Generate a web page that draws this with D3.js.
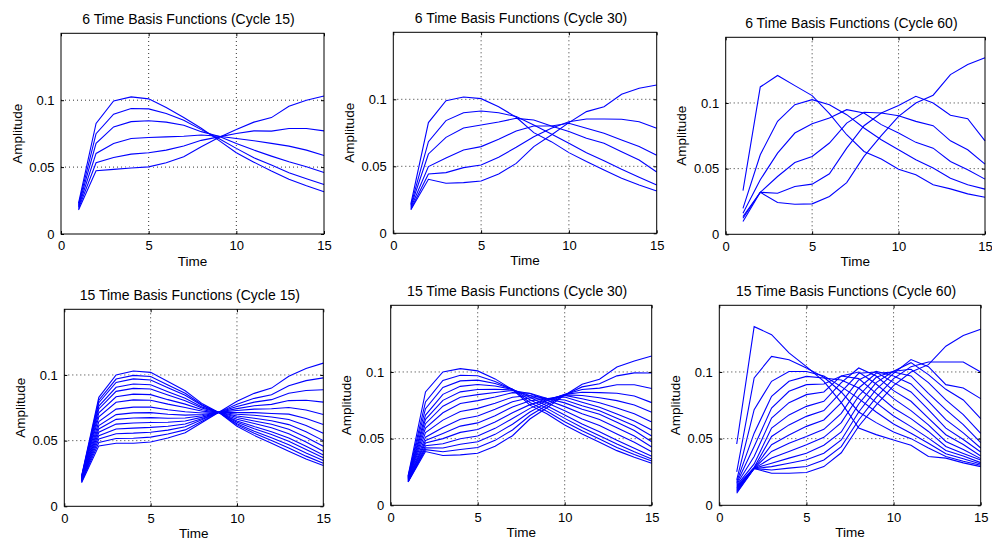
<!DOCTYPE html>
<html><head><meta charset="utf-8">
<script src="https://cdn.jsdelivr.net/npm/d3@7"></script>
<style>
body{margin:0;background:#fff}
svg{display:block}
text{font-family:"Liberation Sans",Arial,Helvetica,sans-serif;fill:#000}
</style>
</head><body>
<svg id="chart" width="992" height="542"></svg>
<script>
// ---------- data ----------
const time = [1,2,3,4,5,6,7,8,9,10,11,12,13,14,15];
const xTicks = [0,5,10,15];
const yTicks = [0,0.05,0.1];
const xDomain = [0,15];
const yDomain = [0,0.15];
const titles = [
  "6 Time Basis Functions (Cycle 15)",
  "6 Time Basis Functions (Cycle 30)",
  "6 Time Basis Functions (Cycle 60)",
  "15 Time Basis Functions (Cycle 15)",
  "15 Time Basis Functions (Cycle 30)",
  "15 Time Basis Functions (Cycle 60)"
];
const xLabel = "Time";
const yLabel = "Amplitude";

const basis6Cycle15 = [
  [0.023,0.0826,0.0995,0.1025,0.101,0.0945,0.087,0.079,0.070,0.0607,0.0537,0.047,0.041,0.036,0.0316],
  [0.022,0.075,0.0896,0.0938,0.0935,0.090,0.085,0.078,0.0714,0.064,0.057,0.0515,0.0458,0.0413,0.037],
  [0.021,0.0677,0.080,0.084,0.0846,0.0836,0.0813,0.0765,0.0731,0.0677,0.0627,0.0582,0.054,0.0502,0.046],
  [0.020,0.0602,0.0677,0.0714,0.0721,0.0726,0.0731,0.0740,0.0731,0.0714,0.0697,0.0677,0.0657,0.0627,0.0587],
  [0.019,0.0532,0.0572,0.0597,0.0607,0.0627,0.0657,0.0700,0.0726,0.0751,0.0771,0.0769,0.0789,0.0789,0.0771],
  [0.018,0.0473,0.0483,0.0493,0.0502,0.0532,0.0577,0.0652,0.0721,0.0781,0.0836,0.087,0.0955,0.100,0.1032]
];
const basis6Cycle30 = [
  [0.022,0.0826,0.099,0.1017,0.1005,0.0945,0.0866,0.0751,0.0684,0.0602,0.0535,0.0473,0.041,0.036,0.0316],
  [0.021,0.0684,0.0841,0.090,0.0913,0.090,0.0871,0.0808,0.0741,0.0672,0.0602,0.0542,0.0478,0.0418,0.036],
  [0.020,0.0592,0.0716,0.0786,0.0808,0.0831,0.0858,0.0846,0.0801,0.0759,0.0709,0.0672,0.0609,0.0547,0.0458],
  [0.019,0.0498,0.0562,0.0622,0.0647,0.0701,0.0764,0.0801,0.0801,0.0821,0.0784,0.0746,0.0697,0.0647,0.0582],
  [0.018,0.0443,0.0453,0.049,0.051,0.0567,0.0642,0.0721,0.0784,0.0833,0.0853,0.0853,0.0851,0.0833,0.0784],
  [0.0175,0.0403,0.0373,0.0378,0.039,0.0443,0.0522,0.0647,0.0734,0.0826,0.0908,0.0945,0.1037,0.1082,0.1107]
];
const basis6Cycle60 = [
  [0.0333,0.1122,0.1209,0.1132,0.1056,0.0919,0.0758,0.0631,0.0573,0.0496,0.0453,0.0377,0.0346,0.0308,0.0282],
  [0.0198,0.0606,0.086,0.0987,0.1025,0.0987,0.0911,0.0809,0.072,0.0644,0.0567,0.0504,0.0427,0.0377,0.0344],
  [0.016,0.0415,0.0618,0.0771,0.0842,0.0886,0.0949,0.0924,0.0835,0.0771,0.070,0.0656,0.0555,0.0491,0.042],
  [0.0135,0.032,0.044,0.0547,0.0593,0.0695,0.0847,0.0929,0.0924,0.0903,0.086,0.0827,0.0712,0.0644,0.0534],
  [0.0122,0.032,0.0313,0.0364,0.0382,0.0461,0.0656,0.0827,0.0924,0.098,0.1051,0.100,0.0906,0.088,0.0712],
  [0.0097,0.032,0.0242,0.0229,0.0232,0.0288,0.0394,0.0593,0.0751,0.0898,0.100,0.1059,0.1216,0.1293,0.1344]
];
const basis15Cycle15 = [
  [0.023,0.083,0.100,0.103,0.102,0.095,0.088,0.078,0.071,0.061,0.054,0.048,0.042,0.036,0.031],
  [0.0226,0.0808,0.0969,0.0997,0.0988,0.0924,0.0861,0.0772,0.0711,0.0620,0.0556,0.0501,0.0444,0.0382,0.0328],
  [0.0223,0.0789,0.0943,0.0970,0.0962,0.0903,0.0845,0.0765,0.0711,0.0629,0.0572,0.0522,0.0468,0.0406,0.0348],
  [0.0220,0.0763,0.0906,0.0931,0.0925,0.0873,0.0822,0.0755,0.0712,0.0640,0.0591,0.0547,0.0495,0.0432,0.0369],
  [0.0216,0.0741,0.0875,0.0898,0.0893,0.0847,0.0803,0.0746,0.0712,0.0650,0.0607,0.0568,0.0520,0.0457,0.0391],
  [0.0213,0.0712,0.0834,0.0854,0.0850,0.0812,0.0778,0.0735,0.0713,0.0663,0.0630,0.0598,0.0553,0.0489,0.0419],
  [0.0210,0.0682,0.0792,0.0810,0.0808,0.0778,0.0752,0.0724,0.0714,0.0676,0.0650,0.0625,0.0587,0.0526,0.0457],
  [0.0206,0.0645,0.0740,0.0755,0.0755,0.0735,0.0720,0.0710,0.0715,0.0688,0.0671,0.0652,0.0622,0.0567,0.0500],
  [0.0203,0.0615,0.0698,0.0711,0.0713,0.0701,0.0694,0.0699,0.0716,0.0701,0.0693,0.0680,0.0661,0.0615,0.0556],
  [0.0200,0.0589,0.0662,0.0672,0.0675,0.0670,0.0672,0.0689,0.0717,0.0713,0.0713,0.0707,0.0702,0.0669,0.0623],
  [0.0196,0.0564,0.0626,0.0634,0.0638,0.0640,0.0650,0.0679,0.0717,0.0729,0.0740,0.0743,0.0752,0.0733,0.0699],
  [0.0193,0.0538,0.0589,0.0595,0.0601,0.0610,0.0627,0.0669,0.0718,0.0744,0.0766,0.0776,0.0805,0.0807,0.0793],
  [0.0190,0.0512,0.0553,0.0557,0.0564,0.0580,0.0605,0.0660,0.0719,0.0760,0.0793,0.0812,0.0861,0.0882,0.0887],
  [0.0186,0.0486,0.0516,0.0518,0.0527,0.0550,0.0582,0.0650,0.0719,0.0777,0.0822,0.0850,0.0918,0.0957,0.0978],
  [0.018,0.046,0.048,0.048,0.049,0.052,0.056,0.064,0.072,0.080,0.086,0.090,0.099,0.105,0.109]
];
const basis15Cycle30 = [
  [0.022,0.085,0.100,0.1025,0.1008,0.0948,0.0868,0.0751,0.0684,0.0602,0.0535,0.0473,0.041,0.036,0.0316],
  [0.0216,0.0775,0.0937,0.0975,0.0972,0.0929,0.0868,0.0771,0.0704,0.0627,0.0559,0.0498,0.0434,0.0381,0.0332],
  [0.0213,0.0725,0.0884,0.0933,0.0939,0.0913,0.0870,0.0792,0.0725,0.0652,0.0583,0.0522,0.0459,0.0401,0.0347],
  [0.0209,0.0677,0.0832,0.0892,0.0906,0.0895,0.0870,0.0811,0.0745,0.0678,0.0610,0.0551,0.0487,0.0427,0.0367],
  [0.0206,0.0645,0.0787,0.0851,0.0868,0.0870,0.0865,0.0824,0.0767,0.0709,0.0648,0.0598,0.0534,0.0473,0.0402],
  [0.0202,0.0612,0.0743,0.0810,0.0830,0.0846,0.0861,0.0838,0.0788,0.0740,0.0686,0.0644,0.0581,0.0519,0.0437],
  [0.0199,0.0579,0.0694,0.0763,0.0785,0.0812,0.0845,0.0840,0.0801,0.0768,0.0720,0.0683,0.0622,0.0561,0.0476],
  [0.0195,0.0545,0.0639,0.0704,0.0727,0.0766,0.0811,0.0823,0.0801,0.0790,0.0747,0.0709,0.0653,0.0597,0.0520],
  [0.0191,0.0511,0.0584,0.0645,0.0670,0.0720,0.0777,0.0807,0.0801,0.0812,0.0773,0.0735,0.0684,0.0633,0.0564],
  [0.0188,0.0486,0.0539,0.0594,0.0618,0.0672,0.0738,0.0784,0.0797,0.0824,0.0799,0.0769,0.0730,0.0687,0.0625],
  [0.0184,0.0467,0.0500,0.0547,0.0569,0.0624,0.0694,0.0755,0.0791,0.0828,0.0823,0.0807,0.0785,0.0753,0.0697],
  [0.0181,0.0447,0.0461,0.0499,0.0520,0.0577,0.0651,0.0727,0.0785,0.0832,0.0848,0.0845,0.0840,0.0820,0.0770],
  [0.0179,0.0432,0.0430,0.0458,0.0476,0.0532,0.0608,0.0700,0.0770,0.0831,0.0869,0.0879,0.0904,0.0904,0.0876],
  [0.0177,0.0417,0.0402,0.0418,0.0433,0.0487,0.0565,0.0673,0.0752,0.0828,0.0888,0.0912,0.0971,0.0993,0.0992],
  [0.0175,0.0403,0.0373,0.0378,0.0390,0.0443,0.0522,0.0647,0.0734,0.0826,0.0908,0.0945,0.1037,0.1082,0.112]
];
const basis15Cycle60 = [
  [0.046,0.134,0.128,0.1143,0.104,0.093,0.077,0.058,0.053,0.049,0.045,0.0366,0.0354,0.0318,0.029],
  [0.025,0.0955,0.1117,0.1092,0.103,0.096,0.085,0.070,0.062,0.055,0.050,0.0429,0.0366,0.0331,0.030],
  [0.019,0.0717,0.093,0.1003,0.1003,0.097,0.089,0.080,0.070,0.061,0.054,0.0466,0.0386,0.0349,0.031],
  [0.0178,0.0541,0.0817,0.093,0.0967,0.0955,0.094,0.088,0.077,0.067,0.059,0.0504,0.0411,0.0369,0.032],
  [0.0168,0.0441,0.0729,0.0855,0.0905,0.091,0.097,0.095,0.084,0.073,0.065,0.0554,0.0441,0.0389,0.034],
  [0.0158,0.0366,0.0654,0.077,0.083,0.085,0.097,0.100,0.091,0.080,0.071,0.0603,0.0479,0.0419,0.035],
  [0.015,0.031,0.0579,0.0678,0.0742,0.078,0.092,0.103,0.097,0.086,0.078,0.0654,0.0529,0.0456,0.037],
  [0.0142,0.0285,0.0516,0.0603,0.0667,0.071,0.085,0.099,0.100,0.092,0.085,0.0717,0.0579,0.0493,0.040],
  [0.0135,0.028,0.0454,0.0528,0.0592,0.064,0.077,0.094,0.1005,0.097,0.091,0.078,0.0642,0.0543,0.043],
  [0.0128,0.0278,0.0404,0.0466,0.0516,0.057,0.069,0.088,0.099,0.100,0.097,0.084,0.0717,0.0605,0.047],
  [0.0121,0.0277,0.0354,0.0404,0.0454,0.051,0.062,0.082,0.096,0.1005,0.102,0.092,0.079,0.068,0.054],
  [0.0114,0.0277,0.0316,0.0354,0.0391,0.045,0.055,0.076,0.092,0.1005,0.107,0.098,0.087,0.079,0.065],
  [0.0107,0.0276,0.029,0.0316,0.0341,0.039,0.049,0.070,0.087,0.099,0.1093,0.104,0.0905,0.088,0.080],
  [0.0099,0.0276,0.0265,0.0279,0.0291,0.034,0.044,0.064,0.081,0.095,0.104,0.1075,0.1075,0.1075,0.100],
  [0.009,0.0276,0.024,0.024,0.0246,0.029,0.0394,0.0593,0.0751,0.0898,0.100,0.1055,0.1193,0.1273,0.132]
];

// ---------- layout (plot boxes: left, top, right, bottom) ----------
const panels = [
  {series: basis6Cycle15,  box: [61, 33.3, 324, 234]},
  {series: basis6Cycle30,  box: [393.3, 32.3, 656.7, 233.3]},
  {series: basis6Cycle60,  box: [725.7, 37.3, 985, 234.3]},
  {series: basis15Cycle15, box: [64.3, 309.3, 323.3, 506.3]},
  {series: basis15Cycle30, box: [390.7, 305.3, 651.7, 505.3]},
  {series: basis15Cycle60, box: [719.3, 305.3, 980.7, 505.3]}
];

const svg = d3.select("#chart");
const FONT = '"Liberation Sans", Arial, Helvetica, sans-serif';

panels.forEach((p, i) => {
  const [l, t, r, b] = p.box;
  const x = d3.scaleLinear().domain(xDomain).range([l, r]);
  const y = d3.scaleLinear().domain(yDomain).range([b, t]);
  const g = svg.append("g");

  // dotted grid
  g.selectAll("line.gx").data(xTicks.filter(v => v > xDomain[0] && v < xDomain[1]))
    .enter().append("line").attr("class", "gx")
    .attr("x1", d => x(d)).attr("x2", d => x(d)).attr("y1", b).attr("y2", t)
    .attr("stroke", "#333").attr("stroke-width", 1).attr("stroke-dasharray", "1,3");
  g.selectAll("line.gy").data(yTicks.filter(v => v > yDomain[0] && v < yDomain[1]))
    .enter().append("line").attr("class", "gy")
    .attr("y1", d => y(d)).attr("y2", d => y(d)).attr("x1", l).attr("x2", r)
    .attr("stroke", "#333").attr("stroke-width", 1).attr("stroke-dasharray", "1,3");

  // series: white underlay hides grid dots beneath the curves, then blue curves
  const line = d3.line().x((d, j) => x(time[j])).y(d => y(d));
  g.append("g").selectAll("path").data(p.series).enter().append("path")
    .attr("d", line).attr("fill", "none").attr("stroke", "#fff").attr("stroke-width", 2);
  g.append("g").selectAll("path").data(p.series).enter().append("path")
    .attr("d", line).attr("fill", "none").attr("stroke", "#0000ff").attr("stroke-width", 1.1);

  // axes
  const styleAxis = sel => {
    sel.select(".domain").remove();
    sel.attr("font-size", 13).attr("font-family", FONT);
    sel.selectAll(".tick line").attr("stroke", "#000");
  };
  g.append("g").attr("transform", `translate(0,${b})`)
    .call(d3.axisBottom(x).tickValues(xTicks).tickSizeInner(-3).tickSizeOuter(0).tickPadding(7).tickFormat(d => String(d)))
    .call(styleAxis);
  g.append("g").attr("transform", `translate(0,${t})`)
    .call(d3.axisTop(x).tickValues(xTicks).tickSizeInner(-3).tickSizeOuter(0).tickFormat(""))
    .call(styleAxis);
  g.append("g").attr("transform", `translate(${l},0)`)
    .call(d3.axisLeft(y).tickValues(yTicks).tickSizeInner(-3).tickSizeOuter(0).tickPadding(6.5).tickFormat(d => String(d)))
    .call(styleAxis);
  g.append("g").attr("transform", `translate(${r},0)`)
    .call(d3.axisRight(y).tickValues(yTicks).tickSizeInner(-3).tickSizeOuter(0).tickFormat(""))
    .call(styleAxis);

  // frame
  g.append("rect").attr("x", l).attr("y", t).attr("width", r - l).attr("height", b - t)
    .attr("fill", "none").attr("stroke", "#000").attr("stroke-width", 1);

  // title
  g.append("text").attr("x", (l + r) / 2 - 4).attr("y", t - 9.5)
    .attr("text-anchor", "middle").attr("font-size", 14).attr("font-family", FONT)
    .text(titles[i]);
  // x label
  g.append("text").attr("x", (l + r) / 2).attr("y", b + 32)
    .attr("text-anchor", "middle").attr("font-size", 13.5).attr("font-family", FONT)
    .text(xLabel);
  // y label
  g.append("text")
    .attr("transform", `translate(${l - 44},${(t + b) / 2}) rotate(-90)`)
    .attr("text-anchor", "middle").attr("dy", "0.35em")
    .attr("font-size", 13.5).attr("font-family", FONT)
    .text(yLabel);
});
</script>
</body></html>
